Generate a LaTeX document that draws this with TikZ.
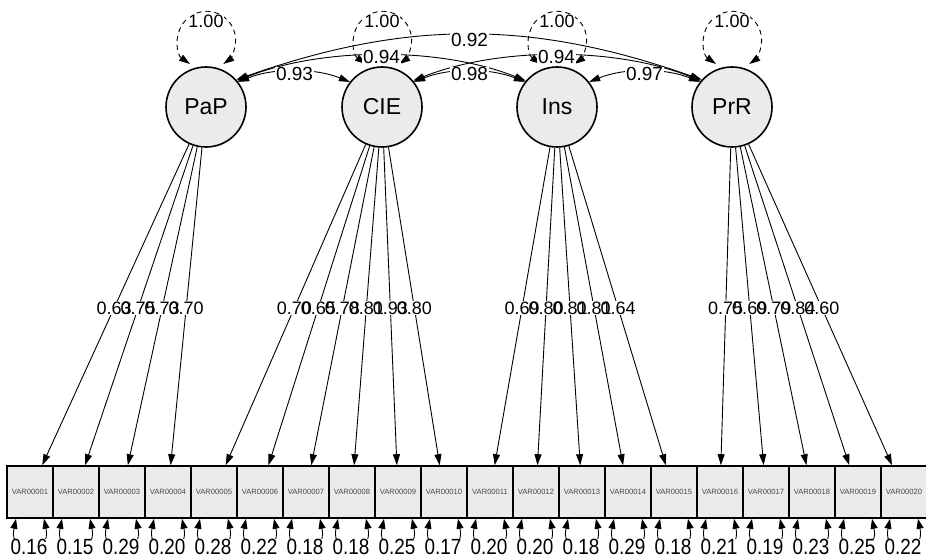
\documentclass[tikz,border=0pt]{standalone}
\usepackage{fontspec}
\setmainfont{Liberation Sans}
\usetikzlibrary{arrows.meta,calc}
\definecolor{nodefill}{RGB}{235,235,235}
\definecolor{varcol}{RGB}{70,70,70}
\begin{document}
\begin{tikzpicture}[x=1pt,y=1pt,
  latent/.style={circle, draw, line width=1.6pt, fill=nodefill, minimum size=80pt,
    inner sep=0pt, font=\fontsize{23}{23}\selectfont},
  manifest/.style={rectangle, draw, line width=1.6pt, fill=nodefill, minimum width=46pt,
    minimum height=52pt, inner sep=0pt, font=\fontsize{7.6}{8}\selectfont, text=varcol},
  load/.style={line width=0.9pt, -{Triangle[length=11pt,width=7pt]}},
  cov/.style={line width=0.9pt, {Triangle[length=11pt,width=7pt]}-{Triangle[length=11pt,width=7pt]}},
  var/.style={line width=0.9pt, dash pattern=on 5pt off 4pt,
    {Triangle[length=11pt,width=7pt]}-{Triangle[length=11pt,width=7pt]}},
  res/.style={line width=0.9pt, {Triangle[length=10pt,width=7pt]}-{Triangle[length=10pt,width=7pt]}},
  lbl/.style={inner sep=0.6pt, font=\fontsize{18}{18}\selectfont},
  lblbg/.style={lbl, fill=white},
  covlbl/.style={inner sep=0.6pt, fill=white, font=\fontsize{19}{19}\selectfont},
  varlbl/.style={inner sep=0.6pt, fill=white, font=\fontsize{18}{18}\selectfont},
  reslbl/.style={inner sep=0.4pt, fill=white, font=\fontsize{22}{22}\selectfont}]
\useasboundingbox (0,0) rectangle (926,558);

% latent factors
\node[latent] (PaP) at (206,451) {PaP};
\node[latent] (CIE) at (382,451) {CIE};
\node[latent] (Ins) at (557,451) {Ins};
\node[latent] (PrR) at (732,451) {PrR};

% observed indicators
\foreach \i in {1,...,20}
  \node[manifest] (v\i) at ({30+46*(\i-1)},66) {VAR000\ifnum\i<10 0\fi\i};

% factor loadings
\foreach \i in {1,...,4}   \draw[load] (PaP) -- (v\i);
\foreach \i in {5,...,10}  \draw[load] (CIE) -- (v\i);
\foreach \i in {11,...,15} \draw[load] (Ins) -- (v\i);
\foreach \i in {16,...,20} \draw[load] (PrR) -- (v\i);

% loading labels: white backing first, then the numbers
\foreach \f/\i/\val in {PaP/1/0.63, PaP/2/0.75, PaP/3/0.73, PaP/4/0.70,
    CIE/5/0.70, CIE/6/0.65, CIE/7/0.78, CIE/8/0.81, CIE/9/0.93, CIE/10/0.80,
    Ins/11/0.69, Ins/12/0.80, Ins/13/0.81, Ins/14/0.81, Ins/15/0.64,
    PrR/16/0.75, PrR/17/0.69, PrR/18/0.79, PrR/19/0.84, PrR/20/0.60}
  \node[lblbg] (lb\i) at ($(\f)!0.522!(v\i)$) {\phantom{\val}};
\foreach \f/\i/\val in {PaP/1/0.63, PaP/2/0.75, PaP/3/0.73, PaP/4/0.70,
    CIE/5/0.70, CIE/6/0.65, CIE/7/0.78, CIE/8/0.81, CIE/9/0.93, CIE/10/0.80,
    Ins/11/0.69, Ins/12/0.80, Ins/13/0.81, Ins/14/0.81, Ins/15/0.64,
    PrR/16/0.75, PrR/17/0.69, PrR/18/0.79, PrR/19/0.84, PrR/20/0.60}
  \node[lbl] (l\i) at ($(\f)!0.522!(v\i)$) {\val};

% factor variances
\foreach \f in {PaP,CIE,Ins,PrR} {
  \draw[var] ($(\f)+(-16,43)$) arc[start angle=235, end angle=-55, radius=29];
  \node[varlbl] (var\f) at ($(\f)+(0,86)$) {1.00};
}

% factor covariances
\draw[cov] (PaP.38) .. controls +(35,14) and +(-35,14) .. (CIE.142);
\draw[cov] (PaP.40) .. controls +(85,34) and +(-85,34) .. (Ins.140);
\draw[cov] (PaP.42) .. controls +(170,60) and +(-170,60) .. (PrR.138);
\draw[cov] (CIE.38) .. controls +(35,14) and +(-35,14) .. (Ins.142);
\draw[cov] (CIE.40) .. controls +(85,34) and +(-85,34) .. (PrR.140);
\draw[cov] (Ins.38) .. controls +(35,14) and +(-35,14) .. (PrR.142);
\node[covlbl] (k12) at (294.5,484) {0.93};
\node[covlbl] (k13) at (381.5,501) {0.94};
\node[covlbl] (k14) at (469.5,518) {0.92};
\node[covlbl] (k23) at (469.5,484) {0.98};
\node[covlbl] (k24) at (556.5,501) {0.94};
\node[covlbl] (k34) at (644.5,484) {0.97};

% residual variances
\foreach \i/\r in {1/0.16, 2/0.15, 3/0.29, 4/0.20, 5/0.28, 6/0.22, 7/0.18, 8/0.18,
    9/0.25, 10/0.17, 11/0.20, 12/0.20, 13/0.18, 14/0.29, 15/0.18, 16/0.21,
    17/0.19, 18/0.23, 19/0.25, 20/0.22} {
  \draw[res] ($(v\i.south)+(-14,0)$) .. controls +(-8,-38) and +(8,-38) .. ($(v\i.south)+(14,0)$);
  \node[reslbl] (r\i) at ($(v\i.south)+(-1,-28)$) {\scalebox{0.86}[1]{\r}};
}
\end{tikzpicture}
\end{document}
